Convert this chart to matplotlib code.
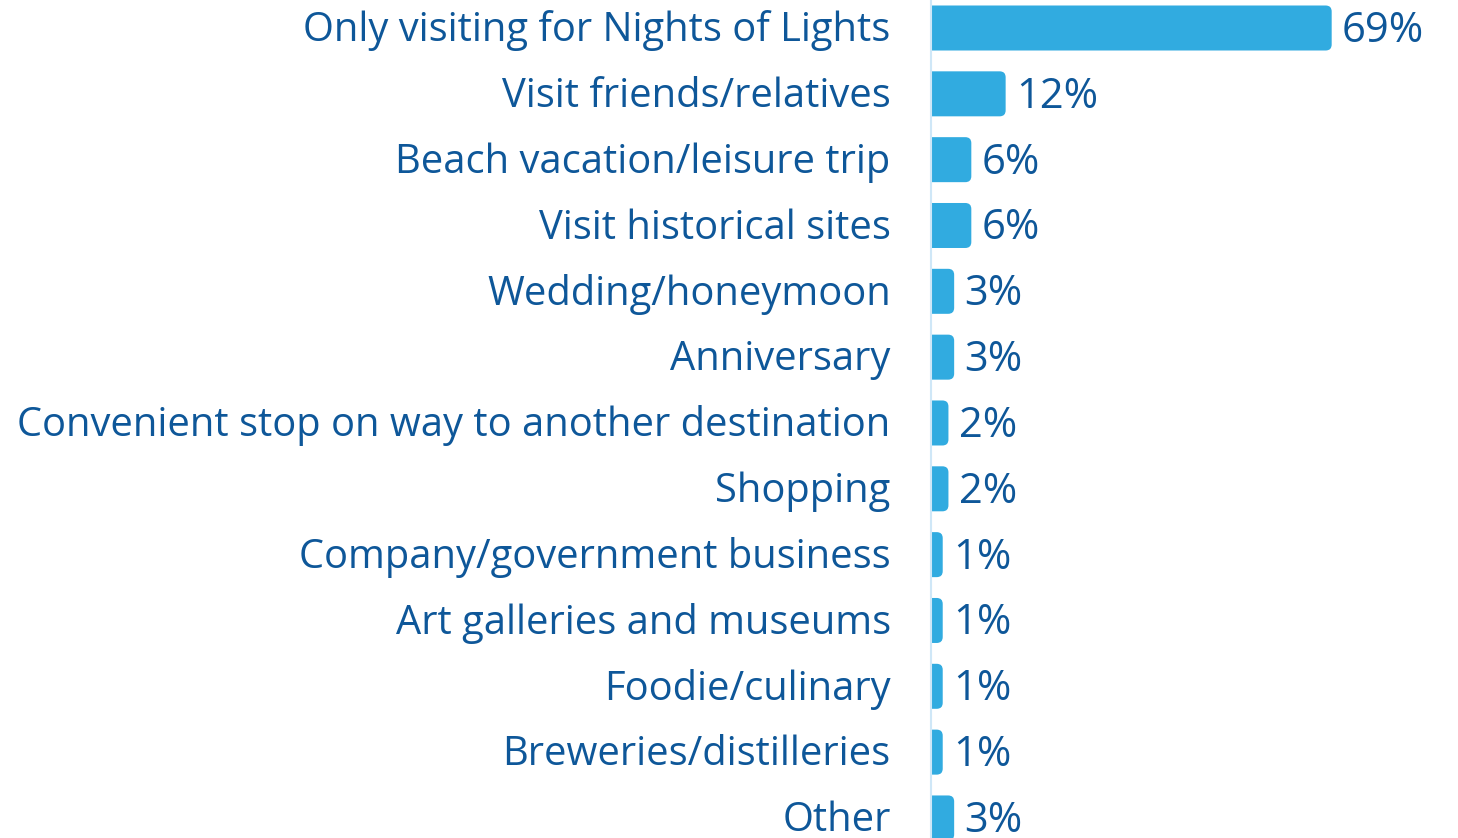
import matplotlib
matplotlib.use("Agg")
import matplotlib.pyplot as plt
from matplotlib.patches import FancyBboxPatch
from matplotlib.transforms import ScaledTranslation

categories = [
    "Only visiting for Nights of Lights",
    "Visit friends/relatives",
    "Beach vacation/leisure trip",
    "Visit historical sites",
    "Wedding/honeymoon",
    "Anniversary",
    "Convenient stop on way to another destination",
    "Shopping",
    "Company/government business",
    "Art galleries and museums",
    "Foodie/culinary",
    "Breweries/distilleries",
    "Other",
]
values = [69, 12, 6, 6, 3, 3, 2, 2, 1, 1, 1, 1, 3]
value_labels = ["69%", "12%", "6%", "6%", "3%", "3%", "2%", "2%", "1%", "1%", "1%", "1%", "3%"]

BAR_COLOR = "#31abe0"
TEXT_COLOR = "#0e5799"
AXIS_COLOR = "#cfe7f7"
FONT = ["Open Sans", "DejaVu Sans"]

W, H, DPI = 1458, 838, 100
fig = plt.figure(figsize=(W / DPI, H / DPI), dpi=DPI)

left_px = 931
ax = fig.add_axes([left_px / W, 0, 1 - left_px / W, 1])

px_per_unit = 5.72      # horizontal pixels per percentage point
row_px = 65.83          # vertical pixels per row
first_row_px = 28       # first row centre, from the top
ax.set_xlim(0, (W - left_px) / px_per_unit)
ax.set_ylim((H - first_row_px) / row_px, -first_row_px / row_px)

bar_h = 45 / row_px
cap = 6 / px_per_unit   # rounded end added past each value
aspect = (1 / row_px) / (1 / px_per_unit)

for i, v in enumerate(values):
    box = FancyBboxPatch(
        (-cap, i - bar_h / 2), v + 2 * cap, bar_h,
        boxstyle=f"round,pad=0,rounding_size={cap}",
        mutation_aspect=aspect,
        facecolor=BAR_COLOR, edgecolor="none", clip_on=True,
    )
    ax.add_patch(box)
    ax.annotate(value_labels[i], xy=(v + cap, i), xytext=(7.5, 1.5),
                textcoords="offset points", ha="left", va="center_baseline",
                fontsize=30, color=TEXT_COLOR, family=FONT)

ax.set_yticks(range(len(categories)))
ax.set_yticklabels(categories, fontsize=28.7, color=TEXT_COLOR, family=FONT)
ax.tick_params(axis="y", length=0, pad=29)
lift = ScaledTranslation(0, 2 / DPI, fig.dpi_scale_trans)
for lbl in ax.get_yticklabels():
    lbl.set_transform(lbl.get_transform() + lift)
ax.set_xticks([])

for side in ["top", "right", "bottom"]:
    ax.spines[side].set_visible(False)
ax.spines["left"].set_color(AXIS_COLOR)
ax.spines["left"].set_linewidth(1.5)
ax.set_facecolor("none")

fig.savefig("out.png", dpi=DPI)
